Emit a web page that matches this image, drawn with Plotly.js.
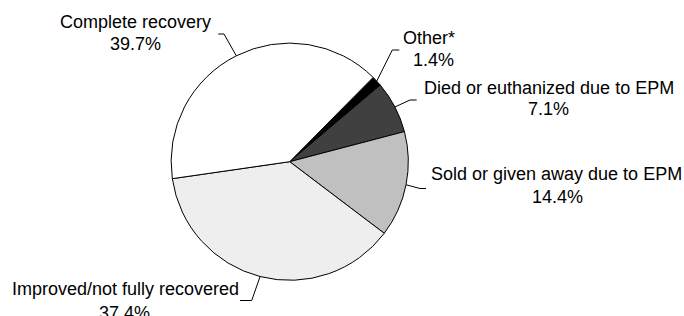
<!DOCTYPE html>
<html>
<head>
<meta charset="utf-8">
<script src="https://cdn.plot.ly/plotly-3.0.1.min.js"></script>
<style>
html,body{margin:0;padding:0;background:#fff;}
#chart{width:684px;height:316px;}
</style>
</head>
<body>
<div id="chart"></div>
<script>
// ---- data (clockwise order, starting at the Other slice) ----
const categories = ["Other*", "Died or euthanized due to EPM", "Sold or given away due to EPM", "Improved/not fully recovered", "Complete recovery"];
const values = [1.4, 7.1, 14.4, 37.4, 39.7];
const percentLabels = ["1.4%", "7.1%", "14.4%", "37.4%", "39.7%"];
const sliceColors = ["#000000", "#404040", "#c0c0c0", "#eeeeee", "#ffffff"];

// ---- layout geometry (pixels) ----
const W = 684, H = 316;
const cx = 289.7, cy = 161.7, R = 118.6;
const startAngle = 44.7; // degrees clockwise from 12 o'clock
const px = x => x / W;
const py = y => 1 - y / H;

// label positions: [name x, name mid y, pct x, pct mid y]
const labelPos = [
  [429, 37.7, 433, 60.4],
  [549, 87.7, 548.8, 108.7],
  [556.7, 173.7, 557.5, 197.0],
  [125, 288.7, 124, 312.5],
  [135.5, 22.0, 135, 43.7]
];
// leader knee and tail points
const leaderPts = [
  [[392.3, 50], [399.3, 50]],
  [[410, 100], [416.7, 100]],
  [[420, 188.5], [426, 188.5]],
  [[251.7, 300.5], [240, 300.5]],
  [[224, 34], [218.3, 34]]
];

const total = values.reduce((a, b) => a + b, 0);
let cum = 0;
const annotations = [];
const shapes = [];
const font = {family: "Liberation Sans, Arial, sans-serif", size: 18, color: "#000"};
values.forEach((v, i) => {
  const mid = startAngle + (cum + v / 2) / total * 360;
  cum += v;
  const a = mid * Math.PI / 180;
  const ex = cx + R * Math.sin(a), ey = cy - R * Math.cos(a);
  const [k, t] = leaderPts[i];
  shapes.push({
    type: "path", xref: "paper", yref: "paper",
    path: `M ${px(ex)} ${py(ey)} L ${px(k[0])} ${py(k[1])} L ${px(t[0])} ${py(t[1])}`,
    line: {color: "#000", width: 1}
  });
  const p = labelPos[i];
  annotations.push({text: categories[i], x: px(p[0]), y: py(p[1]), xref: "paper", yref: "paper",
    xanchor: "center", yanchor: "middle", showarrow: false, font: font});
  annotations.push({text: percentLabels[i], x: px(p[2]), y: py(p[3]), xref: "paper", yref: "paper",
    xanchor: "center", yanchor: "middle", showarrow: false, font: font});
});

const trace = {
  type: "pie",
  labels: categories,
  values: values,
  sort: false,
  direction: "clockwise",
  rotation: startAngle,
  textinfo: "none",
  hoverinfo: "none",
  marker: {colors: sliceColors, line: {color: "#000", width: 1}},
  domain: {x: [px(cx - R), px(cx + R)], y: [py(cy + R), py(cy - R)]}
};

Plotly.newPlot("chart", [trace], {
  width: W, height: H,
  margin: {l: 0, r: 0, t: 0, b: 0},
  paper_bgcolor: "#fff",
  showlegend: false,
  annotations: annotations,
  shapes: shapes
}, {staticPlot: true});
</script>
</body>
</html>
